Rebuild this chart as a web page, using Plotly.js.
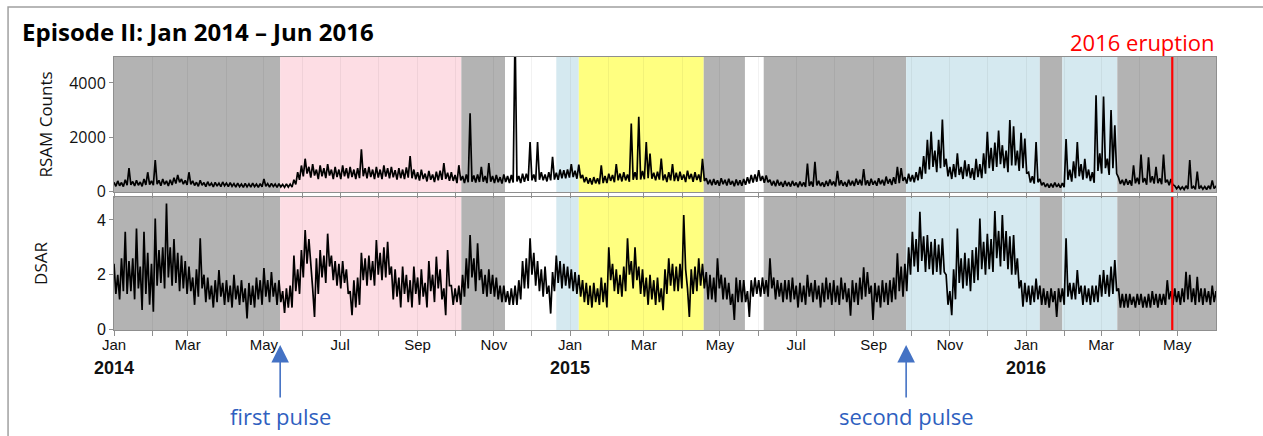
<!DOCTYPE html>
<html>
<head>
<meta charset="utf-8">
<script src="https://cdn.plot.ly/plotly-3.0.1.min.js"></script>
<style>html,body{margin:0;padding:0;background:#fff;}#chart{width:1263px;height:436px;}</style>
</head>
<body>
<div id="chart"></div>
<script>
// ---- data: top and bottom of the noisy band (spikes and dips included) per 3-day bin, from 2014-01-01 ----
const seriesStart = '2014-01-01';
const binDays = 3;

const rsamUpper = [
  330, 380, 320, 420, 850, 360, 400, 340, 450, 700,
  380, 1150, 400, 450, 380, 420, 500, 600, 450, 400,
  700, 380, 330, 400, 320, 350, 300, 330, 300, 340,
  300, 320, 280, 300, 260, 290, 270, 300, 260, 280,
  450, 280, 290, 260, 280, 250, 270, 260, 420, 700,
  950, 1200, 900, 1000, 800, 950, 850, 1000, 800, 900,
  800, 950, 850, 900, 800, 850, 1550, 850, 900, 800,
  900, 800, 950, 850, 900, 780, 850, 800, 880, 1300,
  800, 700, 800, 650, 750, 620, 720, 760, 1040, 680,
  700, 600, 960, 560, 620, 2880, 580, 620, 900, 560,
  1040, 560, 600, 520, 620, 560, 600, 6000, 560, 650,
  650, 1820, 620, 1820, 700, 620, 700, 1270, 680, 800,
  780, 800, 1000, 760, 980, 600, 520, 480, 520, 480,
  960, 560, 650, 600, 1000, 650, 700, 620, 2500, 700,
  2750, 750, 1820, 1390, 680, 720, 1210, 620, 700, 1000,
  680, 720, 620, 760, 640, 700, 620, 1200, 480, 420,
  450, 400, 480, 420, 460, 380, 430, 400, 450, 520,
  600, 620, 780, 560, 580, 420, 380, 420, 340, 380,
  340, 380, 320, 360, 330, 1020, 360, 1085, 380, 330,
  380, 430, 360, 750, 400, 340, 420, 380, 460, 420,
  820, 400, 460, 380, 480, 420, 540, 450, 520, 900,
  850, 520, 650, 600, 700, 900, 1300, 1900, 2200, 1500,
  1900, 2650, 1200, 900, 1000, 1400, 900, 1140, 1000, 850,
  1200, 1000, 1400, 2200, 1600, 1800, 2240, 1700, 1500, 2630,
  2400, 1500, 2160, 1950, 700, 550, 1820, 450, 320, 280,
  280, 320, 260, 300, 1930, 800, 1100, 1820, 1000, 1200,
  800, 700, 3550, 1400, 3500, 1200, 3000, 2440, 500, 420,
  450, 400, 960, 500, 1350, 480, 1250, 550, 900, 480,
  1350, 420, 450, 200, 180, 160, 200, 1150, 180, 720,
  190, 170, 200, 400, 180
];
const rsamLower = [
  180, 200, 170, 220, 230, 190, 220, 180, 230, 240,
  220, 260, 200, 250, 190, 230, 280, 330, 260, 230,
  250, 210, 180, 220, 170, 200, 160, 190, 170, 200,
  170, 180, 150, 170, 140, 160, 150, 170, 140, 160,
  180, 150, 170, 140, 160, 140, 150, 150, 250, 420,
  550, 650, 500, 580, 450, 550, 480, 580, 450, 520,
  450, 550, 470, 520, 450, 480, 550, 470, 520, 450,
  500, 450, 540, 470, 510, 430, 480, 450, 500, 480,
  440, 390, 450, 360, 420, 340, 400, 420, 450, 380,
  380, 300, 400, 300, 330, 350, 320, 340, 350, 300,
  350, 300, 330, 280, 340, 300, 320, 360, 300, 350,
  380, 400, 350, 420, 400, 360, 400, 430, 420, 480,
  480, 500, 520, 460, 480, 330, 280, 250, 290, 260,
  300, 300, 380, 330, 400, 360, 400, 350, 420, 420,
  430, 440, 480, 460, 400, 430, 400, 340, 400, 370,
  370, 420, 340, 450, 350, 410, 340, 380, 260, 220,
  240, 200, 260, 210, 240, 180, 220, 200, 240, 280,
  320, 350, 380, 310, 330, 210, 180, 210, 160, 190,
  170, 200, 150, 180, 160, 190, 170, 210, 190, 160,
  190, 220, 180, 210, 200, 170, 210, 190, 240, 210,
  220, 200, 240, 200, 260, 210, 280, 230, 270, 300,
  380, 280, 360, 330, 400, 450, 650, 800, 900, 700,
  850, 900, 550, 450, 520, 600, 450, 550, 480, 420,
  520, 480, 650, 850, 750, 900, 1000, 850, 700, 950,
  950, 750, 850, 650, 320, 280, 330, 220, 160, 130,
  140, 160, 130, 150, 420, 350, 480, 550, 430, 480,
  370, 310, 750, 650, 850, 600, 850, 650, 270, 220,
  240, 200, 290, 260, 320, 240, 320, 280, 300, 260,
  320, 220, 240, 90, 70, 60, 80, 100, 70, 90,
  70, 60, 80, 100, 70
];

const dsarUpper = [
  2.4, 2.0, 2.6, 3.57, 2.5, 2.6, 3.69, 2.3, 3.57, 2.8,
  2.4, 4.05, 2.9, 3.0, 4.6, 3.0, 3.3, 2.8, 2.7, 2.5,
  2.3, 1.9, 2.2, 3.33, 2.0, 1.9, 1.6, 1.8, 2.17, 1.7,
  1.8, 1.6, 2.0, 1.6, 1.8, 1.5, 1.7, 1.6, 1.9, 1.8,
  2.24, 1.8, 2.1, 1.7, 1.8, 1.4, 1.5, 1.6, 2.7, 2.2,
  2.9, 3.63, 3.3, 1.5, 2.6, 2.9, 2.7, 3.5, 2.7, 2.5,
  2.4, 2.5, 2.2, 1.4, 1.8, 1.9, 2.8, 2.6, 2.7, 2.5,
  3.27, 2.8, 3.0, 3.2, 2.3, 2.2, 1.9, 2.3, 2.0, 1.8,
  2.3, 1.9, 2.2, 1.7, 2.5, 2.0, 2.66, 2.2, 1.5, 2.9,
  1.6, 1.5, 1.6, 2.0, 2.6, 3.45, 2.6, 3.15, 2.2, 2.0,
  2.2, 2.0, 1.9, 1.6, 1.6, 1.4, 1.5, 1.6, 1.8, 2.5,
  2.6, 3.33, 2.8, 2.5, 2.2, 2.3, 1.6, 2.1, 2.7, 2.5,
  2.4, 2.3, 2.2, 2.1, 2.0, 1.8, 1.7, 1.6, 1.7, 1.5,
  1.9, 1.7, 3.0, 2.4, 2.2, 2.0, 2.3, 3.33, 2.5, 3.0,
  2.3, 2.2, 1.9, 2.0, 1.8, 1.9, 1.5, 2.2, 2.6, 2.4,
  2.3, 2.4, 4.18, 1.5, 2.2, 2.3, 2.6, 2.4, 2.1, 2.0,
  1.9, 2.6, 2.0, 1.9, 1.7, 1.3, 1.9, 1.8, 1.8, 1.4,
  1.8, 1.9, 1.8, 1.9, 1.8, 2.6, 1.9, 1.8, 1.7, 1.8,
  1.8, 1.9, 1.6, 1.7, 1.6, 2.0, 1.7, 1.8, 1.6, 1.7,
  1.9, 1.7, 1.8, 1.6, 1.9, 1.7, 1.5, 1.8, 1.7, 1.9,
  2.27, 2.1, 1.6, 1.7, 1.6, 1.8, 1.7, 1.8, 1.9, 2.78,
  2.3, 2.4, 3.0, 3.57, 3.3, 4.3, 3.4, 3.45, 3.2, 3.3,
  3.1, 3.33, 2.0, 1.4, 2.2, 3.69, 2.6, 2.8, 2.6, 2.9,
  3.0, 4.05, 3.2, 3.5, 3.3, 4.33, 3.6, 4.18, 3.6, 3.4,
  3.45, 2.6, 1.8, 1.7, 1.6, 1.6, 1.86, 1.6, 1.5, 1.4,
  1.5, 1.4, 1.5, 1.5, 3.33, 1.7, 1.7, 2.17, 1.6, 1.6,
  1.5, 1.6, 1.6, 2.0, 2.17, 2.0, 2.3, 2.54, 1.5, 1.3,
  1.3, 1.3, 1.2, 1.3, 1.3, 1.2, 1.3, 1.4, 1.3, 1.3,
  1.3, 1.8, 1.4, 1.5, 1.4, 1.5, 2.11, 2.0, 1.5, 1.92,
  1.5, 1.5, 1.4, 1.6, 1.4
];
const dsarLower = [
  1.3, 1.1, 1.4, 1.3, 1.4, 1.1, 1.5, 0.71, 1.3, 0.9,
  0.65, 1.6, 1.7, 1.5, 1.9, 1.6, 1.7, 1.4, 1.5, 1.3,
  1.4, 0.9, 1.2, 1.5, 1.0, 1.1, 0.8, 1.0, 1.2, 0.9,
  1.0, 0.8, 1.1, 0.9, 1.0, 0.4, 0.9, 0.8, 1.1, 0.9,
  1.2, 1.0, 1.2, 0.9, 1.0, 0.6, 0.8, 0.8, 1.4, 1.3,
  1.9, 2.4, 2.2, 0.46, 1.3, 1.9, 1.7, 2.3, 1.8, 1.6,
  1.5, 1.7, 1.3, 0.52, 0.8, 0.9, 1.8, 1.6, 1.8, 1.6,
  2.0, 1.8, 1.9, 2.0, 1.1, 1.2, 0.8, 1.3, 1.0, 0.8,
  1.3, 0.9, 1.2, 0.8, 1.4, 1.0, 1.5, 1.1, 0.52, 1.6,
  0.9, 1.0, 0.9, 1.2, 1.5, 1.9, 1.4, 1.8, 1.3, 1.2,
  1.3, 1.2, 1.1, 1.0, 1.0, 0.9, 0.9, 0.9, 1.1, 1.5,
  1.5, 2.0, 1.6, 1.4, 1.2, 1.3, 0.58, 1.4, 1.7, 1.5,
  1.6, 1.5, 1.4, 1.3, 1.2, 1.0, 0.9, 0.8, 1.0, 0.9,
  1.0, 0.8, 1.8, 1.4, 1.3, 1.2, 1.4, 2.0, 1.5, 1.8,
  1.3, 1.2, 0.9, 1.1, 0.9, 1.0, 0.7, 1.3, 1.6, 1.4,
  1.4, 1.5, 2.2, 0.46, 1.3, 1.4, 1.6, 1.5, 1.1, 1.1,
  1.0, 1.5, 1.1, 1.1, 0.9, 0.35, 1.0, 1.0, 1.0, 0.46,
  1.2, 1.3, 1.2, 1.3, 1.2, 1.5, 1.1, 1.2, 1.0, 1.1,
  1.0, 1.1, 0.8, 1.0, 0.9, 1.2, 1.0, 1.1, 0.8, 1.0,
  1.1, 0.9, 1.0, 0.9, 1.1, 1.0, 0.5, 1.0, 0.9, 1.1,
  1.2, 1.3, 0.35, 1.0, 0.8, 1.0, 0.9, 1.0, 1.1, 1.4,
  1.2, 1.4, 2.0, 2.3, 2.1, 2.5, 2.1, 2.2, 2.0, 2.1,
  2.0, 2.1, 0.9, 0.52, 1.1, 1.7, 1.5, 1.6, 1.4, 1.7,
  1.8, 2.2, 2.0, 2.2, 2.1, 2.6, 2.3, 2.5, 2.2, 2.0,
  2.0, 1.5, 0.83, 1.0, 0.9, 1.0, 1.1, 0.9, 0.9, 0.8,
  1.0, 0.46, 1.0, 0.9, 1.2, 1.1, 1.1, 1.3, 0.9, 1.0,
  0.9, 1.0, 1.0, 1.2, 1.3, 1.2, 1.3, 1.4, 0.8, 0.8,
  0.8, 0.9, 0.8, 0.9, 0.8, 0.8, 0.8, 0.9, 0.8, 0.9,
  0.9, 1.1, 0.9, 1.0, 0.9, 1.0, 1.1, 1.0, 0.9, 1.0,
  0.9, 1.0, 0.9, 1.0, 0.9
];

// shaded periods
const periodStart = ['2014-01-01','2014-05-14','2014-10-06','2014-11-10','2014-12-21','2015-01-08','2015-04-18','2015-05-21','2015-06-05','2015-09-27','2016-01-12','2016-01-30','2016-03-14'];
const periodEnd   = ['2014-05-14','2014-10-06','2014-11-10','2014-12-21','2015-01-08','2015-04-18','2015-05-21','2015-06-05','2015-09-27','2016-01-12','2016-01-30','2016-03-14','2016-06-01'];
const periodKind  = ['gray','pink','gray','white','blue','yellow','gray','white','gray','blue','gray','blue','gray'];

const eruptionDate = '2016-04-27';
const eruptionLabel = '2016 eruption';
const pulseDates = ['2014-05-14', '2015-09-27'];
const pulseLabels = ['first pulse', 'second pulse'];

const monthTickDates = ['2014-01-01','2014-02-01','2014-03-01','2014-04-01','2014-05-01','2014-06-01','2014-07-01','2014-08-01','2014-09-01','2014-10-01','2014-11-01','2014-12-01',
  '2015-01-01','2015-02-01','2015-03-01','2015-04-01','2015-05-01','2015-06-01','2015-07-01','2015-08-01','2015-09-01','2015-10-01','2015-11-01','2015-12-01',
  '2016-01-01','2016-02-01','2016-03-01','2016-04-01','2016-05-01'];
const monthTickText = ['Jan','','Mar','','May','','Jul','','Sep','','Nov','',
  'Jan','','Mar','','May','','Jul','','Sep','','Nov','',
  'Jan','','Mar','','May'];
const yearDates = ['2014-01-01','2015-01-01','2016-01-01'];
const yearText = ['2014','2015','2016'];

const rsamTicks = [0, 2000, 4000];
const dsarTicks = [0, 2, 4];

// ---- styling ----
const kindColor = {gray:'#b3b3b3', pink:'#fddde4', white:'#ffffff', blue:'#d5e9f0', yellow:'#ffff80'};
const W = 1263, H = 436;
const L = 114, R = 1216.5, T = 57, B = 330;
const xp = px => (px - L) / (R - L);
const yp = py => (B - py) / (B - T);
const frameColor = '#8f8f8f';
const sansA = '"Liberation Sans", Arial, sans-serif';
const humanist = '"Open Sans", Lato, sans-serif';
const dayMs = 86400000;

// the plotted trace alternates the top and bottom reading of each bin
function alternate(upper, lower) {
  const out = [];
  upper.forEach((v, i) => { out.push(v); out.push(lower[i]); });
  return out;
}

const traces = [
  {x0: seriesStart, dx: binDays / 2 * dayMs, y: alternate(rsamUpper, rsamLower), type: 'scatter', mode: 'lines',
   line: {color: '#000', width: 1.7}, xaxis: 'x', yaxis: 'y', showlegend: false},
  {x0: seriesStart, dx: binDays / 2 * dayMs, y: alternate(dsarUpper, dsarLower), type: 'scatter', mode: 'lines',
   line: {color: '#000', width: 1.7}, xaxis: 'x2', yaxis: 'y2', showlegend: false}
];

const shapes = [];
periodStart.forEach((s, i) => {
  [['x','y domain'], ['x2','y2 domain']].forEach(([xr, yr]) => {
    shapes.push({type: 'rect', xref: xr, yref: yr, x0: s, x1: periodEnd[i], y0: 0, y1: 1,
      fillcolor: kindColor[periodKind[i]], line: {width: 0}, layer: 'below'});
  });
});
[['x','y domain'], ['x2','y2 domain']].forEach(([xr, yr]) => {
  shapes.push({type: 'line', xref: xr, yref: yr, x0: eruptionDate, x1: eruptionDate, y0: 0, y1: 1,
    line: {color: '#ff0000', width: 2.2}, layer: 'above'});
});
// outer frame of the figure
shapes.push({type: 'rect', xref: 'paper', yref: 'paper', x0: xp(8), x1: xp(1300), y0: yp(480), y1: yp(7),
  line: {color: '#a0a0a0', width: 1.5}, fillcolor: 'rgba(0,0,0,0)', layer: 'above'});

const annotations = [];
yearDates.forEach((d, i) => annotations.push({
  x: d, xref: 'x2', y: yp(368), yref: 'paper', text: '<b>' + yearText[i] + '</b>', showarrow: false,
  xanchor: 'center', yanchor: 'middle', font: {family: sansA, size: 18, color: '#111'}
}));
pulseDates.forEach((d, i) => annotations.push({
  x: d, xref: 'x2', y: yp(345), yref: 'paper', text: pulseLabels[i], showarrow: true,
  ax: 0, ay: 71, arrowhead: 2, arrowsize: 2.2, arrowwidth: 1.6, arrowcolor: '#4472c4', standoff: 0, startstandoff: 2,
  font: {family: humanist, size: 22, color: '#2f5fc0'}, yanchor: 'middle'
}));
annotations.push({x: 1, xref: 'paper', y: yp(42), yref: 'paper', text: eruptionLabel, showarrow: false,
  xanchor: 'right', yanchor: 'middle', font: {family: humanist, size: 22, color: '#ff0000'}});

const xBase = {
  type: 'date', range: ['2014-01-01', '2016-06-01'], tickmode: 'array', tickvals: monthTickDates,
  ticks: 'outside', ticklen: 5, tickcolor: frameColor, showline: true, mirror: true, linecolor: frameColor, linewidth: 1,
  showgrid: true, gridcolor: 'rgba(0,0,0,0.05)', gridwidth: 1, zeroline: false, fixedrange: true
};

const layout = {
  width: W, height: H, paper_bgcolor: '#fff', plot_bgcolor: 'rgba(0,0,0,0)',
  margin: {l: L, r: W - R, t: T, b: H - B, pad: 0},
  title: {text: '<b>Episode II: Jan 2014 – Jun 2016</b>', xref: 'container', yref: 'container',
    x: 22 / W, xanchor: 'left', y: 1 - 33 / H, yanchor: 'middle',
    font: {family: humanist, size: 24, color: '#000'}},
  xaxis: Object.assign({}, xBase, {anchor: 'y', domain: [0, 1], ticktext: monthTickDates.map(() => ''), showticklabels: false}),
  xaxis2: Object.assign({}, xBase, {anchor: 'y2', domain: [0, 1], matches: 'x', ticktext: monthTickText,
    ticklabelstandoff: -4, tickfont: {family: sansA, size: 15, color: '#111'}}),
  yaxis: {domain: [yp(192), 1], range: [-30, 4960], tickmode: 'array', tickvals: rsamTicks, ticktext: rsamTicks.map(String),
    ticks: 'outside', ticklen: 4, tickcolor: frameColor, showline: true, mirror: true, linecolor: frameColor,
    showgrid: false, zeroline: false, fixedrange: true,
    tickfont: {family: humanist, size: 16, color: '#111'},
    title: {text: 'RSAM Counts', standoff: 12, font: {family: humanist, size: 17, color: '#111'}}},
  yaxis2: {domain: [0, yp(197)], range: [-0.02, 4.84], tickmode: 'array', tickvals: dsarTicks, ticktext: dsarTicks.map(String),
    ticks: 'outside', ticklen: 4, tickcolor: frameColor, showline: true, mirror: true, linecolor: frameColor,
    showgrid: false, zeroline: false, fixedrange: true,
    tickfont: {family: sansA, size: 16, color: '#111'},
    title: {text: 'DSAR', standoff: 44, font: {family: humanist, size: 17, color: '#111'}}},
  shapes: shapes,
  annotations: annotations,
  showlegend: false
};

Plotly.newPlot('chart', traces, layout, {staticPlot: true, displayModeBar: false});
</script>
</body>
</html>
